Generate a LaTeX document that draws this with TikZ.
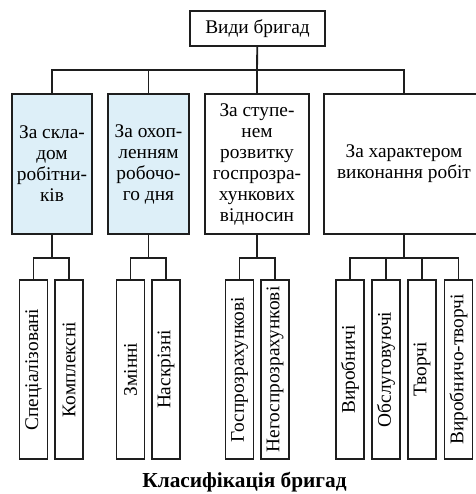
\documentclass[tikz,border=0pt]{standalone}
\usepackage{fontspec}
\setmainfont{Liberation Serif}
\usetikzlibrary{calc}
\definecolor{ink}{HTML}{1E1E1E}
\definecolor{wash}{HTML}{DDEFF8}
\tikzset{
  box/.style={draw=ink, line width=1.4pt, fill=white, align=center, inner sep=0pt,
    font=\fontsize{14.5}{15.75}\selectfont},
  topbox/.style={box, minimum width=101pt, minimum height=26pt},
  kindbox/.style={box, minimum height=105pt},
  leaf/.style={box, minimum width=21pt, minimum height=134.25pt},
  wire/.style={draw=ink, line width=1.4pt},
  caption/.style={font=\fontsize{16}{18}\selectfont\bfseries}
}

\begin{document}
\begin{tikzpicture}[x=0.75pt, y=-0.75pt]
  \useasboundingbox (0,0) rectangle (476,494);

  \node[topbox] (root) at (257.5,28.5) {Види бригад};

  \node[kindbox, fill=wash, minimum width=60pt] (k1) at (52,164) {За скла-\\дом\\робітни-\\ків};
  \node[kindbox, fill=wash, minimum width=60.75pt] (k2) at (148.5,164) {За охоп-\\ленням\\робочо-\\го дня};
  \node[kindbox, minimum width=78pt] (k3) at (257,164) {За ступе-\\нем\\розвитку\\госпрозра-\\хункових\\відносин};
  \node[kindbox, minimum width=120pt] (k4) at (404,164) {За характером\\виконання робіт};

  \node[leaf] (l1) at (33.5,369.5) {\rotatebox{90}{Спеціалізовані}};
  \node[leaf] (l2) at (69,369.5) {\rotatebox{90}{Комплексні}};
  \node[leaf] (l3) at (130.5,369.5) {\rotatebox{90}{Змінні}};
  \node[leaf] (l4) at (166,369.5) {\rotatebox{90}{Наскрізні}};
  \node[leaf] (l5) at (239.5,369.5) {\rotatebox{90}{Госпрозрахункові}};
  \node[leaf] (l6) at (275,369.5) {\rotatebox{90}{Негоспрозрахункові}};
  \node[leaf] (l7) at (350,369.5) {\rotatebox{90}{Виробничі}};
  \node[leaf] (l8) at (386,369.5) {\rotatebox{90}{Обслуговуючі}};
  \node[leaf] (l9) at (422,369.5) {\rotatebox{90}{Творчі}};
  \node[leaf] (l10) at (458.5,369.5) {\rotatebox{90}{Виробничо-творчі}};

  \coordinate (j0) at (257,70);
  \draw[wire] (root) -- (j0);
  \foreach \k in {k1,k2,k3,k4}
    \draw[wire] (j0) -| (\k.north);

  \path (k1.south) ++(0,23) coordinate (j1);
  \path (k2.south) ++(0,23) coordinate (j2);
  \path (k3.south) ++(0,23) coordinate (j3);
  \path (k4.south) ++(0,23) coordinate (j4);
  \foreach \k/\j in {k1/j1,k2/j2,k3/j3,k4/j4}
    \draw[wire] (\k) -- (\j);
  \foreach \j/\l in {j1/l1,j1/l2,j2/l3,j2/l4,j3/l5,j3/l6,j4/l7,j4/l8,j4/l9,j4/l10}
    \draw[wire] (\j) -| (\l.north);

  \node[caption] (cap) at (244.5,482) {Класифікація бригад};
\end{tikzpicture}
\end{document}
